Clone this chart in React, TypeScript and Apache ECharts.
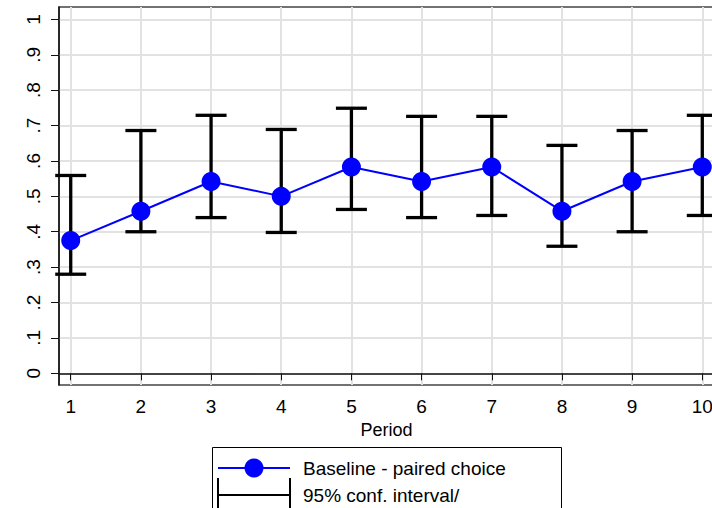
import React, { useEffect, useRef } from "react";
import * as echarts from "echarts";

const periods = [1, 2, 3, 4, 5, 6, 7, 8, 9, 10];
const means = [0.375, 0.458, 0.542, 0.5, 0.583, 0.542, 0.583, 0.458, 0.542, 0.583];
const upper = [0.559, 0.686, 0.729, 0.689, 0.749, 0.726, 0.726, 0.644, 0.686, 0.729];
const lower = [0.28, 0.4, 0.44, 0.398, 0.463, 0.44, 0.446, 0.359, 0.4, 0.446];
const yTicks = [0, 0.1, 0.2, 0.3, 0.4, 0.5, 0.6, 0.7, 0.8, 0.9, 1];
const yTickLabels = ["0", ".1", ".2", ".3", ".4", ".5", ".6", ".7", ".8", ".9", "1"];
const xTicks = [1, 2, 3, 4, 5, 6, 7, 8, 9, 10];
const seriesName = "Baseline - paired choice";
const ciName = "95% conf. interval/";
const xTitle = "Period";

const FONT = "'Liberation Sans', Arial, Helvetica, sans-serif";

export default function App() {
  const ref = useRef<HTMLDivElement>(null);
  useEffect(() => {
    document.body.style.margin = "0";
    const chart = echarts.init(ref.current!, null, { renderer: "svg" });
    const gridColor = "#e2e2e2";
    const txt = (text: string, y: number) => ({
      type: "text",
      x: 303,
      y,
      style: { text, fontSize: 19, fontFamily: FONT, fill: "#000", verticalAlign: "middle", align: "left" },
    });
    chart.setOption({
      animation: false,
      backgroundColor: "#ffffff",
      textStyle: { fontFamily: FONT },
      grid: {
        left: 59,
        top: 7,
        width: 655,
        height: 378,
        show: true,
        borderColor: "#444",
        borderWidth: 1.5,
        containLabel: false,
        outerBoundsMode: "none",
      },
      xAxis: {
        type: "value",
        min: 0.833,
        max: 10.167,
        name: xTitle,
        nameLocation: "middle",
        nameGap: 30,
        nameTextStyle: { fontSize: 18, color: "#000", fontFamily: FONT },
        axisLine: { show: true, lineStyle: { color: "#111", width: 1.5 } },
        axisTick: { show: true, length: 7, customValues: xTicks, lineStyle: { color: "#111", width: 1 } },
        axisLabel: {
          customValues: xTicks,
          fontSize: 19,
          color: "#000",
          margin: 12,
          fontFamily: FONT,
          formatter: (v: number) => String(v),
        },
        splitLine: { show: true, lineStyle: { color: gridColor, width: 2 } },
      },
      yAxis: {
        type: "value",
        min: -0.033,
        max: 1.035,
        axisLine: { show: true, lineStyle: { color: "#111", width: 1.5 } },
        axisTick: { show: true, length: 8, customValues: yTicks, lineStyle: { color: "#111", width: 1 } },
        axisLabel: {
          customValues: yTicks,
          rotate: 90,
          fontSize: 19,
          color: "#000",
          margin: 16,
          fontFamily: FONT,
          formatter: (v: number) => {
            const i = yTicks.findIndex((t) => Math.abs(t - v) < 1e-6);
            return i >= 0 ? yTickLabels[i] : "";
          },
        },
        splitLine: { show: true, lineStyle: { color: gridColor, width: 2 } },
      },
      series: [
        {
          type: "custom",
          name: ciName,
          z: 2,
          data: periods.map((p, i) => [p, lower[i], upper[i]]),
          encode: { x: 0, y: [1, 2] },
          renderItem: (params: any, api: any) => {
            const x = api.value(0);
            const pLo = api.coord([x, api.value(1)]);
            const pHi = api.coord([x, api.value(2)]);
            const hw = 15.5;
            const st = { stroke: "#000", lineWidth: 3.3 };
            return {
              type: "group",
              children: [
                { type: "line", shape: { x1: pLo[0], y1: pLo[1], x2: pHi[0], y2: pHi[1] }, style: st },
                { type: "line", shape: { x1: pLo[0] - hw, y1: pLo[1], x2: pLo[0] + hw, y2: pLo[1] }, style: st },
                { type: "line", shape: { x1: pHi[0] - hw, y1: pHi[1], x2: pHi[0] + hw, y2: pHi[1] }, style: st },
              ],
            };
          },
        },
        {
          type: "line",
          name: seriesName,
          z: 3,
          data: periods.map((p, i) => [p, means[i]]),
          symbol: "circle",
          symbolSize: 19,
          itemStyle: { color: "#0000ff" },
          lineStyle: { color: "#0000ff", width: 2 },
        },
      ],
      graphic: [
        {
          type: "rect",
          shape: { x: 212.5, y: 447.5, width: 349, height: 80 },
          style: { fill: "#fff", stroke: "#000", lineWidth: 1 },
        },
        {
          type: "line",
          shape: { x1: 218, y1: 468, x2: 290, y2: 468 },
          style: { stroke: "#0000ff", lineWidth: 2 },
        },
        {
          type: "circle",
          shape: { cx: 254, cy: 468, r: 9.5 },
          style: { fill: "#0000ff" },
        },
        txt(seriesName, 468),
        {
          type: "line",
          shape: { x1: 218, y1: 495, x2: 290, y2: 495 },
          style: { stroke: "#000", lineWidth: 2 },
        },
        {
          type: "line",
          shape: { x1: 218, y1: 478, x2: 218, y2: 512 },
          style: { stroke: "#000", lineWidth: 2 },
        },
        {
          type: "line",
          shape: { x1: 290, y1: 478, x2: 290, y2: 512 },
          style: { stroke: "#000", lineWidth: 2 },
        },
        txt(ciName, 495),
      ],
    });
    return () => chart.dispose();
  }, []);
  return <div ref={ref} style={{ width: 712, height: 508 }} />;
}
